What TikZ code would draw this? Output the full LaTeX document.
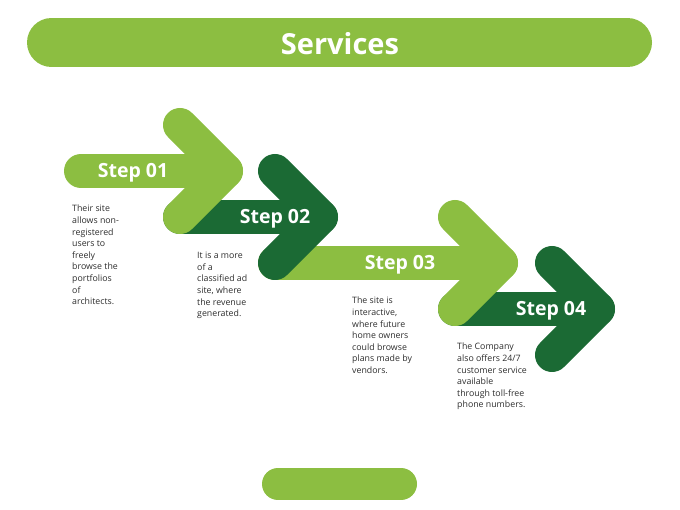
\documentclass[tikz,border=0pt]{standalone}
\usepackage{fontspec}
\setmainfont{Open Sans}
\usetikzlibrary{positioning}
\definecolor{lightgrn}{RGB}{140,190,65}
\definecolor{darkgrn}{RGB}{27,106,52}
\definecolor{bodytxt}{RGB}{45,45,45}

\begin{document}
\begin{tikzpicture}[x=1pt, y=-1pt, node distance=0pt]
\tikzstyle{pill} = [line width=49pt, line cap=round]
\tikzstyle{band} = [line width=34pt, line cap=round, line join=round]
\tikzstyle{steplabel} = [text=white, font=\bfseries\fontsize{19.5}{22}\selectfont]
\tikzstyle{note} = [anchor=north west, align=left, inner sep=0pt, text=bodytxt, font=\fontsize{8.8}{11.6}\selectfont]

\useasboundingbox (0,0) rectangle (680,510);

% title bar
\coordinate (tl) at (51.5,42.5);
\coordinate (tr) at (627.5,42.5);
\draw[pill, lightgrn] (tl) -- (tr);
\node[text=white, font=\bfseries\fontsize{29}{32}\selectfont] (title) at (340,44) {Services};

% arrow tips and arm ends
\coordinate (v1) at (226,171);
\coordinate (v2) at (321,217);
\coordinate (v3) at (501,263);
\coordinate (v4) at (598,309);

% step 04
\draw[band, darkgrn] (455,309) -- (v4);
\draw[band, darkgrn] (552,263) -- (v4) -- (552,355);
% step 03
\draw[band, lightgrn] (275,263) -- (v3);
\draw[band, lightgrn] (455,217) -- (v3) -- (455,309);
% step 02
\draw[band, darkgrn] (180,217) -- (v2);
\draw[band, darkgrn] (275,171) -- (v2) -- (275,263);
% step 01
\draw[band, lightgrn] (81,171) -- (v1);
\draw[band, lightgrn] (180,125) -- (v1) -- (180,217);

\node[steplabel] (s1) at (133,173) {Step 01};
\node[steplabel] (s2) at (275,219) {Step 02};
\node[steplabel] (s3) at (400,265) {Step 03};
\node[steplabel] (s4) at (551,311) {Step 04};

\node[note] (t1) at (72,205) {Their site\\allows non-\\registered\\users to\\freely\\browse the\\portfolios\\of\\architects.};
\node[note] (t2) at (197,252) {It is a more\\of a\\classified ad\\site, where\\the revenue\\generated.};
\node[note] (t3) at (352,297) {The site is\\interactive,\\where future\\home owners\\could browse\\plans made by\\vendors.};
\node[note] (t4) at (457,343) {The Company\\also offers 24/7\\customer service\\available\\through toll-free\\phone numbers.};

% bottom bar
\coordinate (bl) at (278,484);
\coordinate (br) at (401,484);
\draw[lightgrn, line width=32pt, line cap=round] (bl) -- (br);
\end{tikzpicture}
\end{document}
